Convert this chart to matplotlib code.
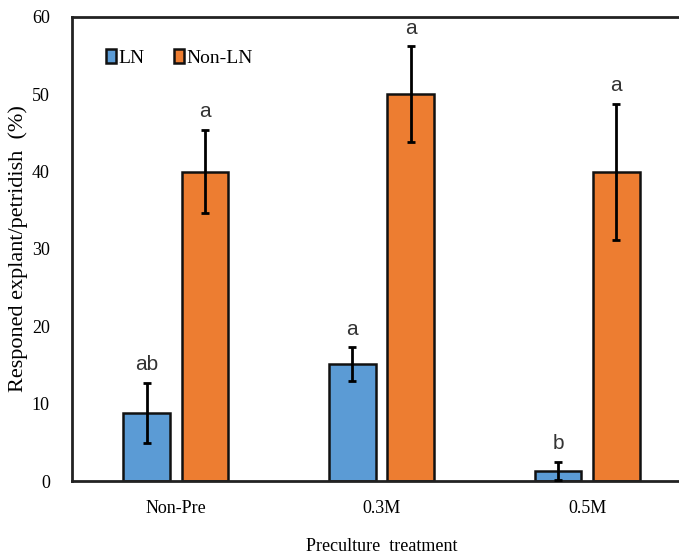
import matplotlib
matplotlib.use("Agg")
import matplotlib.pyplot as plt
import numpy as np

categories = ["Non-Pre", "0.3M", "0.5M"]
ln_values = [8.8, 15.1, 1.3]
ln_errors = [3.9, 2.2, 1.2]
nonln_values = [40.0, 50.0, 40.0]
nonln_errors = [5.4, 6.2, 8.8]
ln_letters = ["ab", "a", "b"]
nonln_letters = ["a", "a", "a"]
yticks = [0, 10, 20, 30, 40, 50, 60]

serif = "Liberation Serif"
sans = "Liberation Sans"

fig = plt.figure(figsize=(6.79, 5.60), dpi=100)
ax = fig.add_axes([72/679, (560-481)/560, (691-72)/679, (481-17)/560])

x = np.arange(len(categories))
w = 0.228
off = 0.142
blue = "#5B9BD5"
orange = "#ED7D31"

ax.bar(x - off, ln_values, w, color=blue, edgecolor="#111111", linewidth=1.8,
       label="LN", zorder=2)
ax.bar(x + off, nonln_values, w, color=orange, edgecolor="#111111", linewidth=1.8,
       label="Non-LN", zorder=2)
ax.errorbar(x - off, ln_values, yerr=ln_errors, fmt="none", ecolor="black",
            elinewidth=2, capsize=3, capthick=2, zorder=3)
ax.errorbar(x + off, nonln_values, yerr=nonln_errors, fmt="none", ecolor="black",
            elinewidth=2, capsize=3, capthick=2, zorder=3)

for i in range(len(categories)):
    ax.text(x[i] - off, ln_values[i] + ln_errors[i] + 1.1, ln_letters[i],
            ha="center", va="bottom", fontsize=15, family=sans, color="#333333")
    ax.text(x[i] + off, nonln_values[i] + nonln_errors[i] + 1.1, nonln_letters[i],
            ha="center", va="bottom", fontsize=15, family=sans, color="#333333")

ax.set_xlim(-0.505, 2.505)
ax.set_ylim(0, 60)
ax.set_yticks(yticks)
ax.set_xticks(x)
ax.set_xticklabels(categories, fontsize=13, family=serif)
ax.set_yticklabels([str(t) for t in yticks], fontsize=13, family=serif)
ax.tick_params(axis="x", length=0, pad=14)
ax.tick_params(axis="y", length=0, pad=16)

for s in ["left", "bottom", "top", "right"]:
    ax.spines[s].set_linewidth(2)
    ax.spines[s].set_color("#222222")

ax.set_xlabel("Preculture  treatment", fontsize=13, family=serif, labelpad=15)
ax.set_ylabel("Responed explant/petridish  (%)", fontsize=16, family=serif, labelpad=3)

leg = ax.legend(loc="upper left", bbox_to_anchor=(0.026, 0.968), ncol=2, frameon=False,
                prop={"family": serif, "size": 14}, handlelength=0.55, handleheight=0.7,
                handletextpad=0.1, columnspacing=1.5)

fig.savefig("out.png", dpi=100)
